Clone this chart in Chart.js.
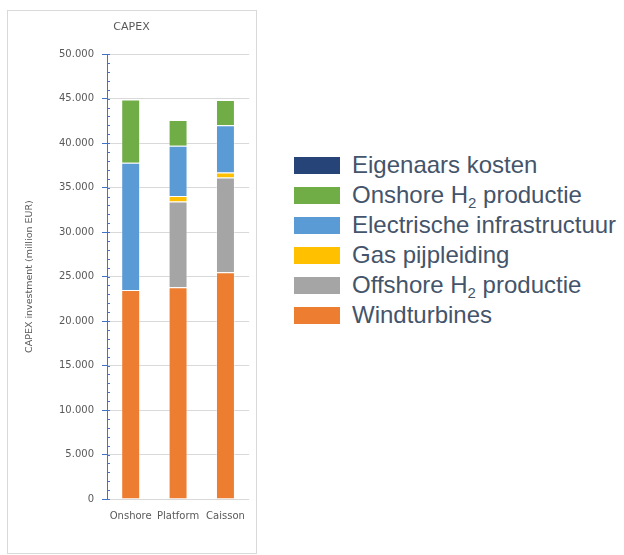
<!DOCTYPE html>
<html>
<head>
  <title>CAPEX</title>
  <script src="https://cdn.jsdelivr.net/npm/chart.js"></script>
  <style>
    body { margin: 0; background: #fff; font-family: "Liberation Sans", Arial, sans-serif; }
    #box { position: absolute; left: 7px; top: 10px; width: 250px; height: 544px; border: 1px solid #d9d9d9; box-sizing: border-box; }
    #legend { position: absolute; left: 294px; top: 150px; list-style: none; margin: 0; padding: 0; }
    #legend li { height: 30px; line-height: 30px; font-size: 24px; color: #44546A; white-space: nowrap; }
    #legend span { display: inline-block; width: 46px; height: 17px; margin-right: 12px; vertical-align: -1px; }
    #legend sub { font-size: 15px; vertical-align: -5px; line-height: 0; }
  </style>
</head>
<body>
  <div id="box"><canvas id="capexChart"></canvas></div>
  <ul id="legend"></ul>

  <script>
    const categories = ["Onshore", "Platform", "Caisson"];

    // million EUR
    const windturbines = [23500, 23800, 25500];
    const offshoreH2 = [0, 9650, 10650];
    const gasPijpleiding = [0, 600, 550];
    const electrisch = [14300, 5650, 5300];
    const onshoreH2 = [7100, 2900, 2850];
    const eigenaars = [0, 0, 0];

    const yTicks = [0, 5000, 10000, 15000, 20000, 25000, 30000, 35000, 40000, 45000, 50000];

    function fmt(v) {
      return v.toString().replace(/\B(?=(\d{3})+(?!\d))/g, ".");
    }

    const datasets = [
      { label: "Windturbines", data: windturbines, backgroundColor: "#ED7D31" },
      { label: "Offshore H₂ productie", data: offshoreH2, backgroundColor: "#A5A5A5" },
      { label: "Gas pijpleiding", data: gasPijpleiding, backgroundColor: "#FFC000" },
      { label: "Electrische infrastructuur", data: electrisch, backgroundColor: "#5B9BD5" },
      { label: "Onshore H₂ productie", data: onshoreH2, backgroundColor: "#70AD47" },
      { label: "Eigenaars kosten", data: eigenaars, backgroundColor: "#264478" }
    ];
    datasets.forEach(d => {
      d.borderColor = "rgba(255,255,255,0.35)";
      d.borderWidth = 1;
      d.barPercentage = 0.4;
      d.categoryPercentage = 1;
    });

    // small ticks every 1.000 on the inside of the value axis
    const minorTicks = {
      id: "minorTicks",
      afterDatasetsDraw(chart) {
        const y = chart.scales.y;
        const ctx = chart.ctx;
        ctx.save();
        ctx.strokeStyle = "#4472C4";
        ctx.lineWidth = 1;
        for (let v = 0; v <= 50000; v += 1000) {
          const py = Math.round(y.getPixelForValue(v)) + 0.5;
          ctx.beginPath();
          ctx.moveTo(chart.chartArea.left, py);
          ctx.lineTo(chart.chartArea.left + 3, py);
          ctx.stroke();
        }
        ctx.restore();
      }
    };

    const ul = document.getElementById("legend");
    datasets.slice().reverse().forEach(d => {
      const li = document.createElement("li");
      const sw = document.createElement("span");
      sw.style.background = d.backgroundColor;
      li.appendChild(sw);
      li.insertAdjacentHTML("beforeend", d.label.replace("₂", "<sub>2</sub>"));
      ul.appendChild(li);
    });

    new Chart(document.getElementById("capexChart"), {
      type: "bar",
      data: { labels: categories, datasets: datasets },
      plugins: [minorTicks],
      options: {
        responsive: true,
        maintainAspectRatio: false,
        animation: false,
        layout: { padding: { left: 0, right: 1, bottom: 0 } },
        plugins: {
          legend: { display: false },
          tooltip: { enabled: false },
          title: {
            display: true,
            text: "CAPEX",
            color: "#595959",
            font: { family: "DejaVu Sans", size: 11, weight: "normal" },
            padding: { top: 10, bottom: 20 }
          }
        },
        scales: {
          x: {
            stacked: true,
            grid: { display: false, drawTicks: false },
            border: { display: false },
            ticks: {
              color: "#595959",
              font: { family: "DejaVu Sans", size: 10 },
              padding: 11,
              maxRotation: 0
            },
            afterFit(scale) { scale.height = 54; }
          },
          y: {
            stacked: true,
            min: 0,
            max: 50000,
            afterBuildTicks(scale) { scale.ticks = yTicks.map(v => ({ value: v })); },
            ticks: {
              color: "#595959",
              font: { family: "DejaVu Sans", size: 10 },
              padding: 8,
              callback: v => fmt(v)
            },
            grid: { color: "#d9d9d9", tickColor: "#4472C4", tickLength: 5 },
            border: { color: "#4472C4" },
            title: {
              display: true,
              text: "CAPEX investment (million EUR)",
              color: "#595959",
              font: { family: "DejaVu Sans", size: 9.5 },
              padding: { top: 16, bottom: 0 }
            },
            afterFit(scale) { scale.width = 99; }
          }
        }
      }
    });
  </script>
</body>
</html>
